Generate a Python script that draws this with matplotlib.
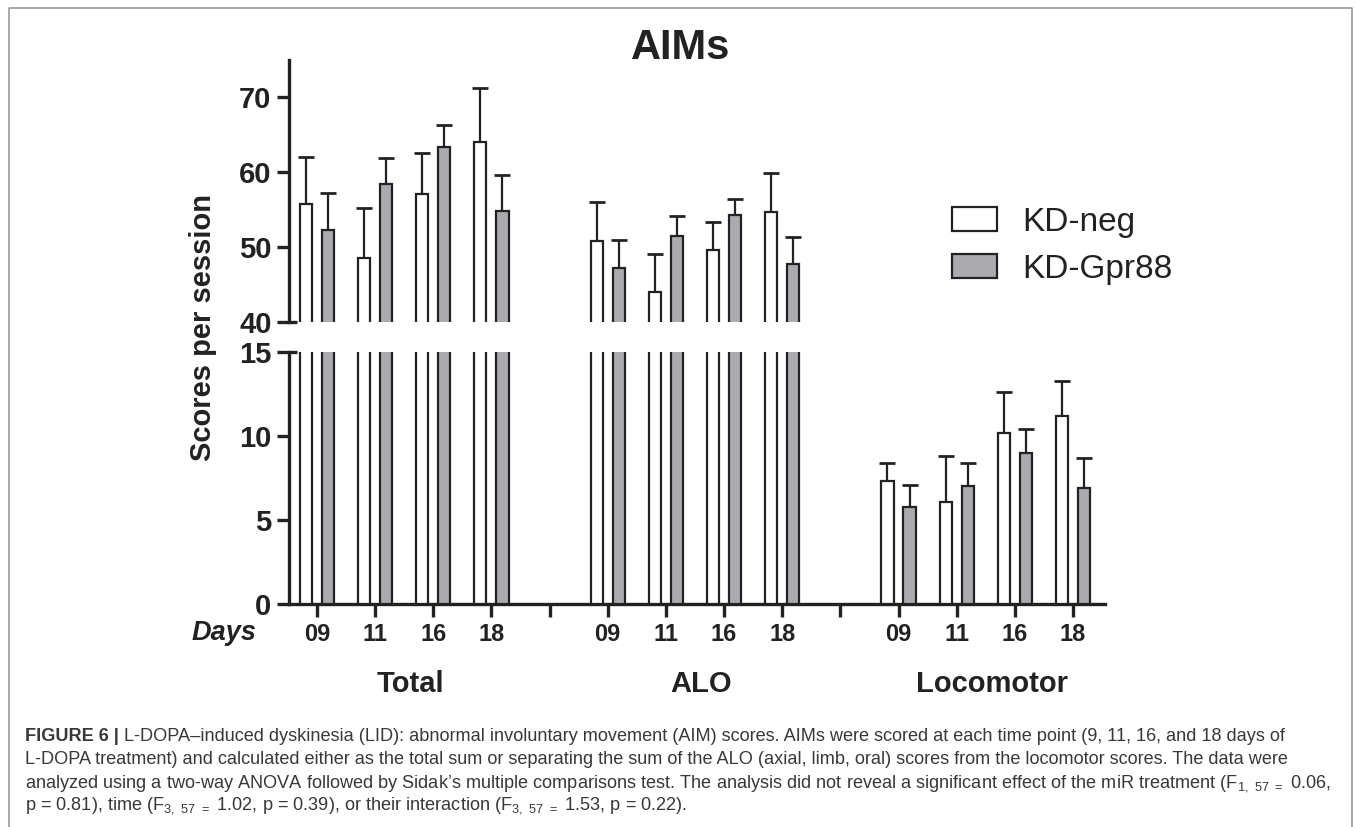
import numpy as np
import matplotlib
matplotlib.use("Agg")
import matplotlib.pyplot as plt
from matplotlib.lines import Line2D
from matplotlib.transforms import blended_transform_factory

############################
# Data
############################

days = ["09", "11", "16", "18"]
groups = ["Total", "ALO", "Locomotor"]

# KD-neg, order: Total 09..18, ALO 09..18, Locomotor 09..18
neg_mean = [55.7, 48.5, 57.1, 64.1, 50.8, 44.0, 49.6, 54.7, 7.3, 6.1, 10.2, 11.2]
neg_sem = [6.3, 6.7, 5.5, 7.1, 5.2, 5.1, 3.8, 5.2, 1.1, 2.7, 2.4, 2.1]

# KD-Gpr88
gpr_mean = [52.3, 58.5, 63.4, 54.8, 47.2, 51.5, 54.3, 47.8, 5.8, 7.0, 9.0, 6.9]
gpr_sem = [4.9, 3.4, 2.9, 4.8, 3.7, 2.6, 2.1, 3.6, 1.3, 1.4, 1.4, 1.8]

caption_lines = [
    " L-DOPA\u2013induced dyskinesia (LID): abnormal involuntary movement (AIM) scores. "
    "AIMs were scored at each time point (9, 11, 16, and 18 days of",
    "L-DOPA treatment) and calculated either as the total sum or separating the sum of the "
    "ALO (axial, limb, oral) scores from the locomotor scores. The data were",
    "analyzed using a two-way ANOVA followed by Sidak\u2019s multiple comparisons test. "
    r"The analysis did not reveal a significant effect of the miR treatment (F$_{1,\ 57\ {=}}$ 0.06,",
    r"p = 0.81), time (F$_{3,\ 57\ {=}}$ 1.02, p = 0.39), or their interaction "
    r"(F$_{3,\ 57\ {=}}$ 1.53, p = 0.22).",
]

############################
# Style
############################

INK = "#222222"
GREY = "#ABABAF"
CAPTION = "#383838"

plt.rcParams.update({
    "font.family": "Liberation Sans",
    "mathtext.fontset": "custom",
    "mathtext.rm": "Liberation Sans",
    "mathtext.default": "regular",
    "axes.linewidth": 2.4,
    "axes.edgecolor": INK,
    "xtick.color": INK,
    "ytick.color": INK,
    "text.color": INK,
})

W, H = 1355, 827


def fx(px):
    return px / W


def fy(px):
    return 1 - px / H


fig = plt.figure(figsize=(W / 100, H / 100), dpi=100)

ax_top = fig.add_axes([fx(289), fy(322), fx(1105) - fx(289), fy(60) - fy(322)])
ax_bot = fig.add_axes([fx(289), fy(604), fx(1105) - fx(289), fy(352) - fy(604)])

# bar positions: 4 days per group, one empty slot between groups
pos = np.concatenate([np.arange(4) + 5 * g for g in range(3)]).astype(float)
off = 0.19
width = 0.21
xlim = (-0.48, 13.55)

for ax in (ax_top, ax_bot):
    b_neg = ax.bar(pos - off, neg_mean, width, color="white", edgecolor=INK,
                   linewidth=1.6, zorder=3, label="KD-neg")
    b_gpr = ax.bar(pos + off, gpr_mean, width, color=GREY, edgecolor=INK,
                   linewidth=1.6, zorder=3, label="KD-Gpr88")
    for x, m, e in ((pos - off, neg_mean, neg_sem), (pos + off, gpr_mean, gpr_sem)):
        eb = ax.errorbar(x, m, yerr=[np.zeros(len(m)), e], fmt="none", ecolor=INK,
                         elinewidth=1.6, capsize=5.5, capthick=2.0, zorder=2)
        eb[1][0].set_visible(False)
    ax.set_xlim(*xlim)
    ax.spines["top"].set_visible(False)
    ax.spines["right"].set_visible(False)
    ax.tick_params(axis="y", length=8.6, width=2.4, pad=4)

# upper panel
ax_top.set_ylim(40, 75)
ax_top.set_yticks([40, 50, 60, 70])
ax_top.set_yticklabels(["40", "50", "60", "70"], fontweight="bold", fontsize=21)
ax_top.spines["bottom"].set_visible(False)
ax_top.tick_params(axis="x", bottom=False, labelbottom=False)

# lower panel
ax_bot.set_ylim(0, 15)
ax_bot.set_yticks([0, 5, 10, 15])
ax_bot.set_yticklabels(["0", "5", "10", "15"], fontweight="bold", fontsize=21)
tick_labels = days + [""] + days + [""] + days
ax_bot.set_xticks(np.arange(14))
ax_bot.set_xticklabels(tick_labels, fontweight="bold", fontsize=17)
ax_bot.tick_params(axis="x", length=9, width=2.4, pad=5)

# break marks
brk = 8 / 58.15
ax_top.plot([xlim[0], xlim[0] + brk], [40, 40], color=INK, lw=2.4,
            clip_on=False, solid_capstyle="butt", zorder=5)
ax_bot.plot([xlim[0], xlim[0] + brk], [15, 15], color=INK, lw=2.4,
            clip_on=False, solid_capstyle="butt", zorder=5)

# group names under the day ticks
tr = blended_transform_factory(ax_bot.transData, fig.transFigure)
for g, name in enumerate(groups):
    ax_bot.text(5 * g + 1.5 + 0.1, fy(692), name, transform=tr, ha="center",
                va="baseline", fontsize=21, fontweight="bold")

fig.text(fx(257), fy(640), "Days", ha="right", va="baseline", fontsize=19.5,
         fontweight="bold", fontstyle="italic")

fig.text(fx(203), fy(328), "Scores per session", rotation=90, ha="center",
         va="center", fontsize=21, fontweight="bold")

fig.text(fx(681), fy(59), "AIMs", ha="center", va="baseline", fontsize=30,
         fontweight="bold")

fig.legend(handles=[b_neg, b_gpr], labels=["KD-neg", "KD-Gpr88"],
           loc="upper left", bbox_to_anchor=(fx(952), fy(207)), frameon=False,
           fontsize=24, handlelength=1.35, handleheight=0.72, handletextpad=0.75,
           labelspacing=0.48, borderpad=0, borderaxespad=0)

############################
# Caption
############################

baselines = [741, 764, 787, 809]
cap_size = 13.1
head = fig.text(fx(25), fy(baselines[0]), "FIGURE 6 |", ha="left", va="baseline",
                fontsize=cap_size, fontweight="bold", color=CAPTION)
plt.annotate(caption_lines[0], xy=(1, fy(baselines[0])),
             xycoords=(head, "figure fraction"), ha="left", va="baseline",
             fontsize=cap_size, color=CAPTION, annotation_clip=False)
for line, b in zip(caption_lines[1:], baselines[1:]):
    fig.text(fx(25), fy(b), line, ha="left", va="baseline", fontsize=cap_size,
             color=CAPTION)

# frame around the figure panel (open at the bottom)
fig.add_artist(Line2D([fx(9), fx(9), fx(1352), fx(1352)], [0, fy(8), fy(8), 0],
                      transform=fig.transFigure, color="#9a9a9a", lw=1.2))

fig.savefig("out.png", dpi=100)
